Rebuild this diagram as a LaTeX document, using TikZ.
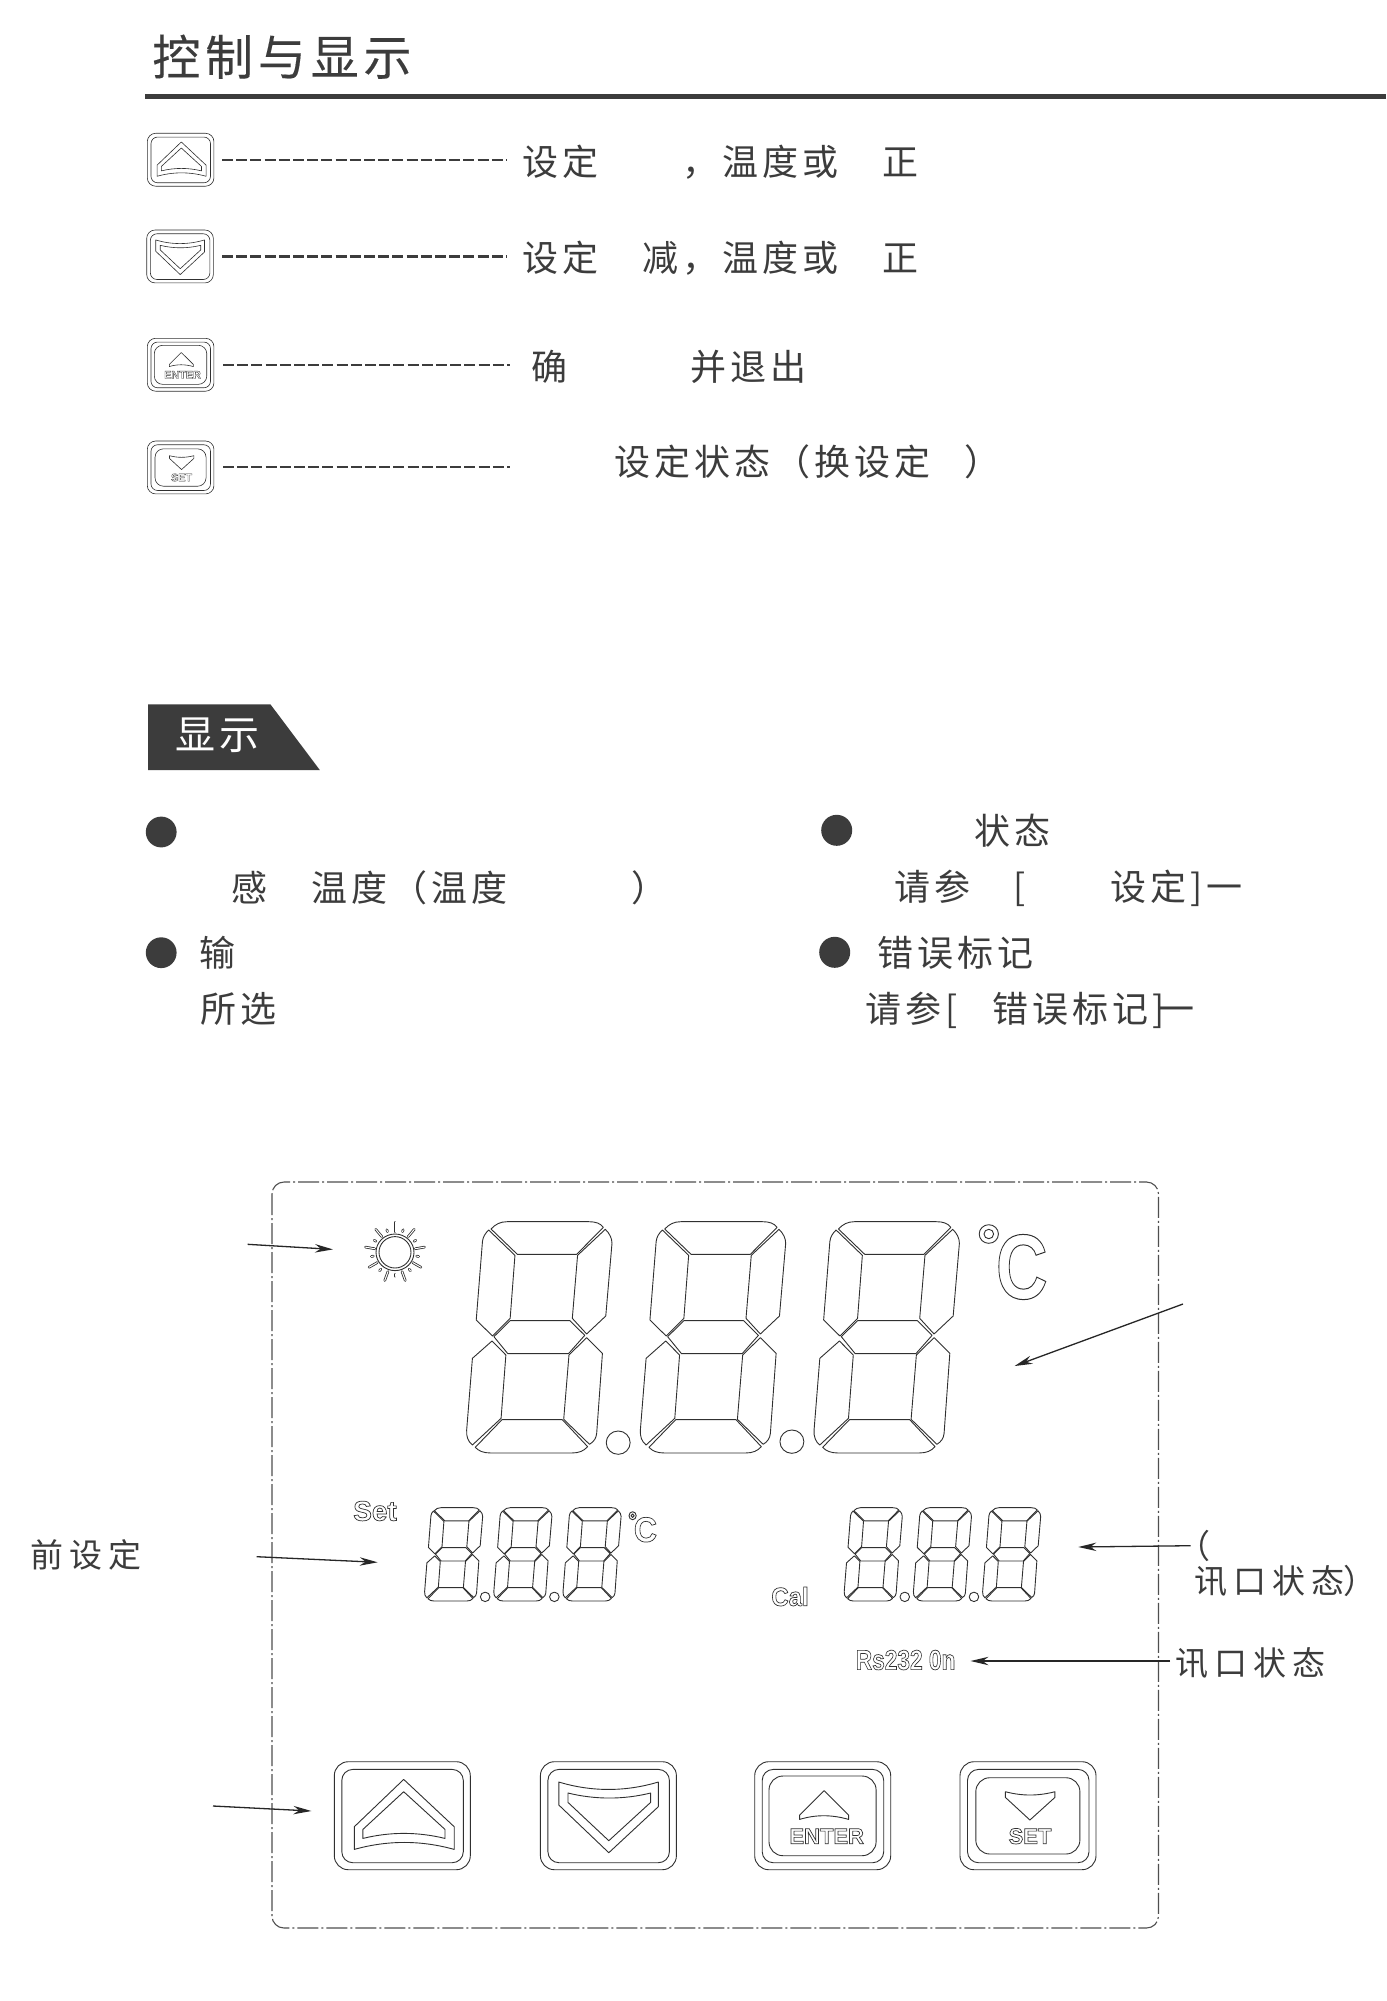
\documentclass[tikz,border=0pt]{standalone}
\usepackage{fontspec}
\usetikzlibrary{arrows.meta,calc}
\setmainfont{Liberation Sans}
\newfontfamily\headf{Noto Sans CJK SC}[LetterSpace=10,FakeBold=0.25]
\newfontfamily\bodyf{Noto Sans CJK SC}[LetterSpace=11]
\newfontfamily\badgef{Noto Sans CJK SC}[LetterSpace=10]
\newfontfamily\notef{Noto Sans CJK SC}[LetterSpace=18]
\newfontfamily\lcdf{Liberation Sans Bold}
\definecolor{ink}{HTML}{3C3C3C}
\definecolor{lcd}{HTML}{303030}
\newcommand{\outl}[2]{\special{pdf:code q 1 Tr #1 w}#2\special{pdf:code Q}}
\newcommand{\fs}[1]{\fontsize{#1}{#1}\selectfont}
\newcommand{\btnr}{1}
\newcommand{\keylw}{0.45pt}
\tikzset{
  x=0.5pt,y=-0.5pt,
  hline/.style={draw=lcd,line width=0.45pt,line join=round},
  keyl/.style={draw=lcd,line width=\keylw,line join=round},
  head/.style={anchor=base west,inner sep=0pt,text=ink,font=\headf\fs{24pt}},
  body/.style={anchor=base west,inner sep=0pt,text=ink,font=\bodyf\fs{18pt}},
  note/.style={anchor=base west,inner sep=0pt,text=ink,font=\notef\fs{16.5pt}},
  lcdt/.style={inner sep=0pt,text=lcd,font=\lcdf},
  leader/.style={draw=ink,line width=1.3pt,dash pattern=on 5.5pt off 1.6pt},
  arr/.style={draw=black!85,line width=0.65pt,-{Stealth[length=9pt,width=4.2pt]}},
  bullet/.style={fill=ink,draw=none},
  ray/.style={draw=lcd,line width=0.4pt,double=white,double distance=0.5pt,line cap=round},
}
% seven-segment digit: source coordinates, placed by shift and scale
\newcommand{\segdigit}[4]{%
\begin{scope}[shift={(#1,#2)},xscale=#3,yscale=#4]
\draw[hline] (316,117) .. controls (325,103) and (335,95) .. (350,95) -- (520,95) .. controls (535,95) and (545,100) .. (551,112) -- (495,193) -- (371,193) -- cycle;
\draw[hline] (311,120) -- (366,196) -- (356,385) -- (319,438) -- (285,390) -- (298,155) .. controls (299,140) and (304,130) .. (311,120) -- cycle;
\draw[hline] (555,118) .. controls (564,130) and (569,145) .. (569,160) -- (556,378) -- (516,432) -- (486,385) -- (497,196) -- cycle;
\draw[hline] (356,392) -- (481,392) -- (512,436) -- (478,491) -- (351,491) -- (322,440) -- cycle;
\draw[hline] (318,453) -- (347,495) -- (337,685) -- (277,765) .. controls (268,755) and (264,740) .. (265,720) -- (277,505) -- cycle;
\draw[hline] (516,443) -- (549,490) -- (537,730) .. controls (536,745) and (531,755) .. (522,763) -- (468,688) -- (479,495) -- cycle;
\draw[hline] (339,689) -- (465,689) -- (518,770) .. controls (510,783) and (500,789) .. (485,789) -- (315,789) .. controls (300,789) and (290,783) .. (283,772) -- cycle;
\end{scope}}
\newcommand{\segdot}[4]{%
\begin{scope}[shift={(#1,#2)},xscale=#3,yscale=#4]
\draw[hline] (582,758) ellipse [x radius=25,y radius=35];
\end{scope}}
% key caps, drawn in the large key's own pixels
\newcommand{\keyframe}{%
\draw[keyl,rounded corners=\btnr*7pt] (0,0) rectangle (136,108);
\draw[keyl,rounded corners=\btnr*5.5pt] (7.5,7.7) rectangle (129,101);}
\newcommand{\keyup}[3]{%
\begin{scope}[shift={(#1,#2)},xscale=#3,yscale=#3]
\keyframe
\draw[keyl] (69.4,17.7) -- (119.9,65) -- (119.9,87.7) .. controls (86.6,78.4) and (53.3,78.4) .. (20,87.7) -- (20,65) -- cycle;
\draw[keyl] (69.4,30) -- (110.7,67.7) -- (110.7,76.7) .. controls (83,70) and (56,70) .. (28.6,76.7) -- (28.6,67.7) -- cycle;
\end{scope}}
\newcommand{\keydown}[3]{%
\begin{scope}[shift={(#1,#2)},xscale=#3,yscale=#3]
\keyframe
\draw[keyl] (18.4,20.3) .. controls (51,30.2) and (85,30.2) .. (117.9,20.3) -- (117.9,45) -- (68.4,91) -- (18.4,43.3) -- cycle;
\draw[keyl] (27.6,31.3) .. controls (55,38) and (83,38) .. (110.2,31.3) -- (110.2,40.7) -- (68.4,79) -- (27.6,40.7) -- cycle;
\end{scope}}
\newcommand{\keyenter}[4]{%
\begin{scope}[shift={(#1,#2)},xscale=#3,yscale=#3]
\keyframe
\draw[keyl,rounded corners=\btnr*7pt] (14.3,14.3) rectangle (121.4,94);
\draw[keyl] (69.4,29) -- (93.9,53.3) -- (93.9,57.7) .. controls (77,52.8) and (61,52.8) .. (44.9,57.7) -- (44.9,53.3) -- cycle;
\node[lcdt,transform shape] (#4) at (72,74.5) {\fs{11pt}\outl{0.35}{ENTER}};
\end{scope}}
\newcommand{\keyset}[4]{%
\begin{scope}[shift={(#1,#2)},xscale=#3,yscale=#3]
\keyframe
\draw[keyl,rounded corners=\btnr*7pt] (15.8,16) rectangle (119.9,92.3);
\draw[keyl] (45.4,30) .. controls (62,34.4) and (78,34.4) .. (94.9,30) -- (94.9,35.7) -- (69.9,58.3) -- (45.4,35.7) -- cycle;
\node[lcdt,transform shape] (#4) at (70,74.5) {\fs{11pt}\outl{0.35}{SET}};
\end{scope}}
\begin{document}
\begin{tikzpicture}
\useasboundingbox (0,0) rectangle (1386,2001);
\fill[white] (0,0) rectangle (1386,2001);

% heading
\node[head] (title) at (152,75) {控制与显示};
\fill[ink] (145,94) rectangle (1386,99);

% small keys
\renewcommand{\btnr}{0.6}
\renewcommand{\keylw}{0.3pt}
\keyup{147.3}{133.3}{0.49}
\keydown{146.7}{230}{0.49}
\keyenter{147.3}{338.3}{0.49}{kenter1}
\keyset{147.3}{441}{0.49}{kset1}

% leaders
\coordinate (l1a) at (222,160); \coordinate (l1b) at (507,160);
\coordinate (l2a) at (222,256.7); \coordinate (l2b) at (507,256.7);
\coordinate (l3a) at (223,365); \coordinate (l3b) at (510,365);
\coordinate (l4a) at (223,467); \coordinate (l4b) at (510,467);
\draw[leader] (l1a) -- (l1b);
\draw[leader] (l2a) -- (l2b);
\draw[leader] (l3a) -- (l3b);
\draw[leader] (l4a) -- (l4b);

% key descriptions
\node[body] (r1a) at (522,176) {设定};
\node[body] (r1b) at (682,176) {，温度或};
\node[body] (r1c) at (882,176) {正};
\node[body] (r2a) at (522,271) {设定};
\node[body] (r2b) at (642,271) {减，温度或};
\node[body] (r2c) at (882,271) {正};
\node[body] (r3a) at (531,380) {确};
\node[body] (r3b) at (690,380) {并退出};
\node[body] (r4a) at (614,475) {设定状态（换设定};
\node[body] (r4b) at (964,475) {）};

% badge
\fill[ink] (148.2,704.3) -- (270.4,704.3) -- (319.8,770) -- (148.2,770) -- cycle;
\node[anchor=base west,inner sep=0pt,text=white,font=\badgef\fs{20pt}] (badge) at (175,749) {显示};

% bullets
\fill[bullet] (161.2,832) circle [radius=15.4];
\fill[bullet] (161.2,952.7) circle [radius=15.4];
\fill[bullet] (836.7,830.3) circle [radius=15.5];
\fill[bullet] (834.7,952.3) circle [radius=15.5];

\node[body] (b1a) at (231,901) {感};
\node[body] (b1b) at (311,901) {温度（温度};
\node[body] (b1c) at (631,901) {）};
\node[body] (b2a) at (199,966) {输};
\node[body] (b2b) at (200,1022) {所选};
\node[body] (b3a) at (974,844.5) {状态};
\node[body] (b3b) at (894,900) {请参};
\node[body] (b3c) at (1013,900) {[};
\node[body] (b3d) at (1110,900) {设定]一};
\node[body] (b4a) at (877.5,966) {错误标记};
\node[body] (b4b) at (865,1022) {请参[};
\node[body] (b4c) at (992,1022) {错误标记]\kern-2.8pt 一};

% panel frame
\draw[draw=lcd!85,line width=0.55pt,rounded corners=6pt,dash pattern=on 10.5pt off 1.5pt on 1pt off 1.5pt] (272,1182) rectangle (1158.5,1928);

% sun
\foreach \a in {90,50,10,-30,-70,-110,-150,170,130}
  \draw[ray] ($(395,1252.3)+(-\a:20.5)$) -- ($(395,1252.3)+(-\a:30)$);
\foreach \a in {70,30,-10,-50,-90,-130,-170,150,110}
  \draw[ray] ($(395,1252.3)+(-\a:22)$) -- ($(395,1252.3)+(-\a:24)$);
\draw[hline] (395,1252.3) ellipse [x radius=19,y radius=18.3];
\draw[hline] (395,1252.3) ellipse [x radius=16,y radius=15.7];

% main digits
\segdigit{340}{1190}{0.478}{0.3333}
\segdigit{513.7}{1190}{0.478}{0.3333}
\segdigit{687.4}{1190}{0.478}{0.3333}
\segdot{340}{1190}{0.478}{0.3333}
\segdot{513.7}{1189}{0.478}{0.3333}
\draw[hline] (988.8,1234) ellipse [x radius=9.6,y radius=9.3];
\draw[hline] (988.8,1234) ellipse [x radius=4.8,y radius=4.7];
\node[lcdt,xscale=0.78,transform shape] (cbig) at (1021.8,1267) {\fs{46pt}\outl{0.5}{C}};

% small digits
\segdigit{374}{1494.9}{0.191}{0.1345}
\segdigit{443.2}{1494.9}{0.191}{0.1345}
\segdigit{512.4}{1494.9}{0.191}{0.1345}
\segdot{374}{1494.9}{0.191}{0.1345}
\segdot{443.2}{1494.9}{0.191}{0.1345}
\segdigit{793.6}{1494.9}{0.191}{0.1345}
\segdigit{862.8}{1494.9}{0.191}{0.1345}
\segdigit{932}{1494.9}{0.191}{0.1345}
\segdot{793.6}{1494.9}{0.191}{0.1345}
\segdot{862.8}{1494.9}{0.191}{0.1345}
\draw[hline] (632.6,1515.7) ellipse [x radius=3.6,y radius=4];
\draw[hline] (632.6,1515.7) ellipse [x radius=1.6,y radius=1.8];
\node[lcdt,xscale=0.92,transform shape] (csmall) at (645.5,1529.7) {\fs{17.5pt}\outl{0.35}{C}};

\node[lcdt] (setl) at (375,1511) {\fs{14pt}\outl{0.35}{Set}};
\node[lcdt,xscale=0.92,transform shape] (call) at (790,1596.5) {\fs{13pt}\outl{0.35}{Cal}};
\node[lcdt,xscale=0.81,transform shape] (rs) at (905.6,1660) {\fs{14pt}\outl{0.35}{Rs232 0n}};

% large keys
\renewcommand{\btnr}{1}
\renewcommand{\keylw}{0.45pt}
\keyup{334.3}{1761.7}{1}
\keydown{540.4}{1761.7}{1}
\keyenter{754.7}{1761.7}{1}{kenter2}
\keyset{960}{1761.7}{1}{kset2}

% callouts
\node[note] (n1) at (30.5,1567.5) {前设定};
\node[note] (n2) at (1177,1558.5) {（};
\node[note] (n3) at (1194,1593.5) {讯口状态\kern-0.5pt）};
\node[note] (n4) at (1175.5,1675.5) {讯口状态};

\coordinate (a1s) at (247.6,1244.3); \coordinate (a1e) at (333,1249.4);
\coordinate (a2s) at (1183,1304); \coordinate (a2e) at (1014.6,1366);
\coordinate (a3s) at (256.7,1556.7); \coordinate (a3e) at (377.7,1562.3);
\coordinate (a4s) at (1190.7,1545.7); \coordinate (a4e) at (1078.3,1547);
\coordinate (a5s) at (1170,1661); \coordinate (a5e) at (970.5,1661);
\coordinate (a6s) at (213,1806); \coordinate (a6e) at (311.4,1811);
\draw[arr] (a1s) -- (a1e);
\draw[arr] (a2s) -- (a2e);
\draw[arr] (a3s) -- (a3e);
\draw[arr] (a4s) -- (a4e);
\draw[arr] (a5s) -- (a5e);
\draw[arr] (a6s) -- (a6e);
\end{tikzpicture}
\end{document}
